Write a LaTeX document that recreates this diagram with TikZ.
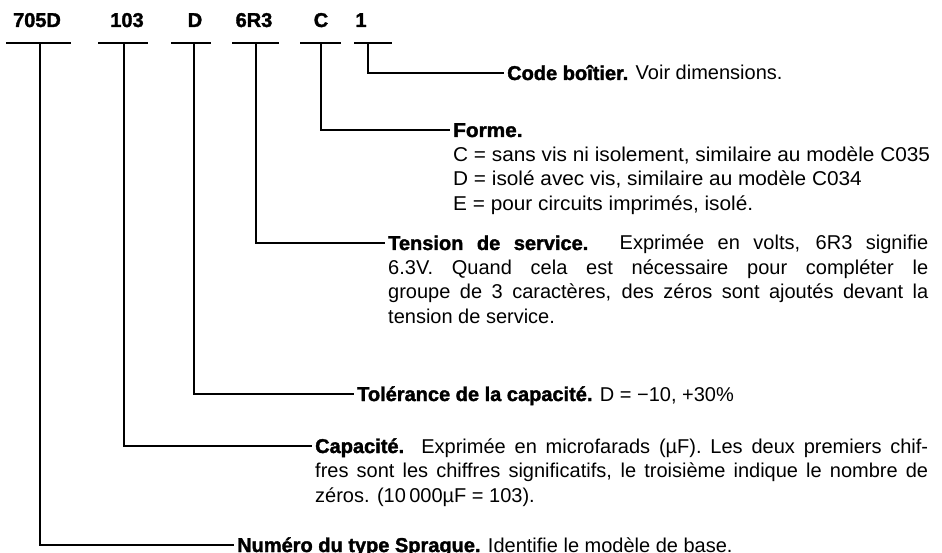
\documentclass[tikz,border=0pt]{standalone}
\usepackage{fontspec}
\setmainfont{Liberation Sans}[BoldFeatures={FakeBold=1.7}]
\begin{document}
\begin{tikzpicture}[x=1pt,y=-1pt,
  lead/.style={line width=1.8pt},
  every node/.style={inner sep=0pt,font=\fontsize{20}{24.5}\selectfont},
  codelab/.style={anchor=base,font=\fontsize{20}{24.5}\selectfont\bfseries},
  desc/.style={anchor=base west}]
\useasboundingbox (0,0) rectangle (942,553);
% header codes
\node[codelab] (c1) at (37,27) {705D};
\node[codelab] (c2) at (127,27) {103};
\node[codelab] (c3) at (195,27) {D};
\node[codelab] (c4) at (254,27) {6R3};
\node[codelab] (c5) at (321,27) {C};
\node[codelab] (c6) at (361,27) {1};
% bars
\coordinate (b1l) at (6,43);   \coordinate (b1r) at (71,43);  \coordinate (s1) at (40,43);
\coordinate (b2l) at (98,43);  \coordinate (b2r) at (148,43); \coordinate (s2) at (124,43);
\coordinate (b3l) at (171,43); \coordinate (b3r) at (211,43); \coordinate (s3) at (194,43);
\coordinate (b4l) at (232,43); \coordinate (b4r) at (279,43); \coordinate (s4) at (256,43);
\coordinate (b5l) at (300,43); \coordinate (b5r) at (341,43); \coordinate (s5) at (321,43);
\coordinate (b6l) at (354,43); \coordinate (b6r) at (392,43); \coordinate (s6) at (368,43);
\foreach \i in {1,...,6} {\draw[lead] (b\i l) -- (b\i r);}
% descriptions
\node[desc] (d6) at (507,80) {\textbf{Code boîtier.} Voir dimensions.};
\node[desc] (d5) at (453,137) {\addfontfeature{FakeStretch=1.04}\vtop{\hbox{\textbf{Forme.}}
\hbox{C = sans vis ni isolement, similaire au modèle C035}
\hbox{D = isolé avec vis, similaire au modèle C034}
\hbox{E = pour circuits imprimés, isolé.}}};
\node[desc] (d4) at (388,250) {\vtop{\hbox{\makebox[540pt][s]{\textbf{Tension de service.} Exprimée en volts, 6R3 signifie}}
\hbox{\makebox[540pt][s]{6.3V. Quand cela est nécessaire pour compléter le}}
\hbox{\makebox[540pt][s]{groupe de 3 caractères, des zéros sont ajoutés devant la}}
\hbox{tension de service.}}};
\node[desc] (d3) at (357,401) {\textbf{Tolérance de la capacité.} D = −10, +30\%};
\node[desc] (d2) at (315,453) {\vtop{\hbox{\makebox[613pt][s]{\textbf{Capacité.} Exprimée en microfarads (µF). Les deux premiers chif-}}
\hbox{\makebox[613pt][s]{fres sont les chiffres significatifs, le troisième indique le nombre de}}
\hbox{zéros. (10\,000µF = 103).}}};
\node[desc] (d1) at (237,552) {\textbf{Numéro du type Sprague.} Identifie le modèle de base.};
% leaders
\foreach \i in {1,...,6} {\draw[lead] (s\i) |- ([xshift=-3pt,yshift=7pt]d\i.base west);}
\end{tikzpicture}
\end{document}
